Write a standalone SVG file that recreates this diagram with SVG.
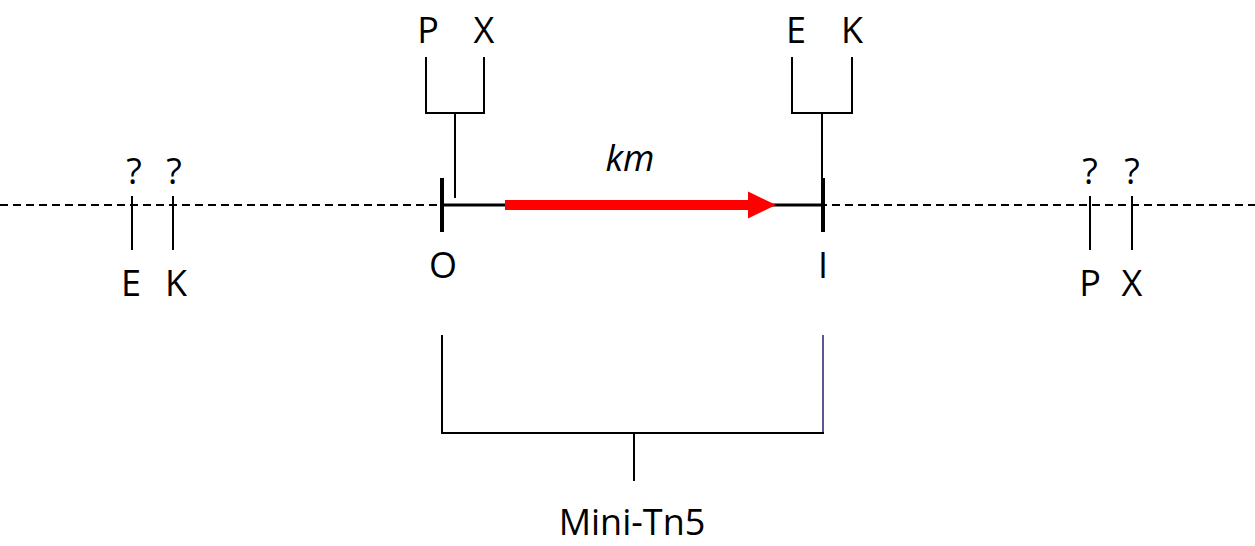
<svg xmlns="http://www.w3.org/2000/svg" width="1255" height="546" viewBox="0 0 1255 546">
<style>
  .t { font-family: "Open Sans", "Noto Sans", sans-serif; font-size: 36px; fill: #000; text-anchor: middle; }
  .thin { stroke: #000; stroke-width: 2; fill: none; }
  .tick { stroke: #000; stroke-width: 4; fill: none; }
</style>
<g id="connectors">
  <line x1="0" y1="205" x2="1255" y2="205" stroke="#000" stroke-width="2" stroke-dasharray="8,5"/>
  <line x1="442" y1="205" x2="823" y2="205" stroke="#000" stroke-width="3"/>
  <path d="M505,200 H748 V191.5 L776,205 L748,218.5 V210 H505 Z" fill="#ff0000"/>
</g>
<g id="O-end">
  <line class="tick" x1="442" y1="178" x2="442" y2="232"/>
  <text class="t" x="443" y="278">O</text>
</g>
<g id="I-end">
  <line class="tick" x1="823" y1="178" x2="823" y2="232"/>
  <text class="t" x="823" y="278">I</text>
</g>
<g id="km-label">
  <text class="t" x="630" y="171" font-style="italic">km</text>
</g>
<g id="PX-bracket">
  <path class="thin" d="M426,57 V113 H484 V57 M455,113 V198"/>
  <text class="t" x="428" y="43">P</text>
  <text class="t" x="484" y="43">X</text>
</g>
<g id="EK-bracket">
  <path class="thin" d="M792,57 V113 H852 V57 M822,113 V178"/>
  <text class="t" x="796" y="43">E</text>
  <text class="t" x="852" y="43">K</text>
</g>
<g id="left-sites">
  <line class="thin" x1="132" y1="196" x2="132" y2="250"/>
  <line class="thin" x1="173" y1="196" x2="173" y2="250"/>
  <text class="t" x="134" y="184">?</text>
  <text class="t" x="174" y="184">?</text>
  <text class="t" x="131" y="296">E</text>
  <text class="t" x="176" y="296">K</text>
</g>
<g id="right-sites">
  <line class="thin" x1="1090" y1="196" x2="1090" y2="250"/>
  <line class="thin" x1="1132" y1="196" x2="1132" y2="250"/>
  <text class="t" x="1090" y="184">?</text>
  <text class="t" x="1132" y="184">?</text>
  <text class="t" x="1090" y="296">P</text>
  <text class="t" x="1132" y="296">X</text>
</g>
<g id="mini-tn5">
  <line class="thin" x1="442" y1="335" x2="442" y2="434"/>
  <line x1="823" y1="335" x2="823" y2="434" stroke="#5a5a8c" stroke-width="2"/>
  <line class="thin" x1="441" y1="433" x2="824" y2="433"/>
  <line class="thin" x1="634" y1="433" x2="634" y2="481"/>
  <text class="t" x="632" y="535">Mini-Tn5</text>
</g>
</svg>
